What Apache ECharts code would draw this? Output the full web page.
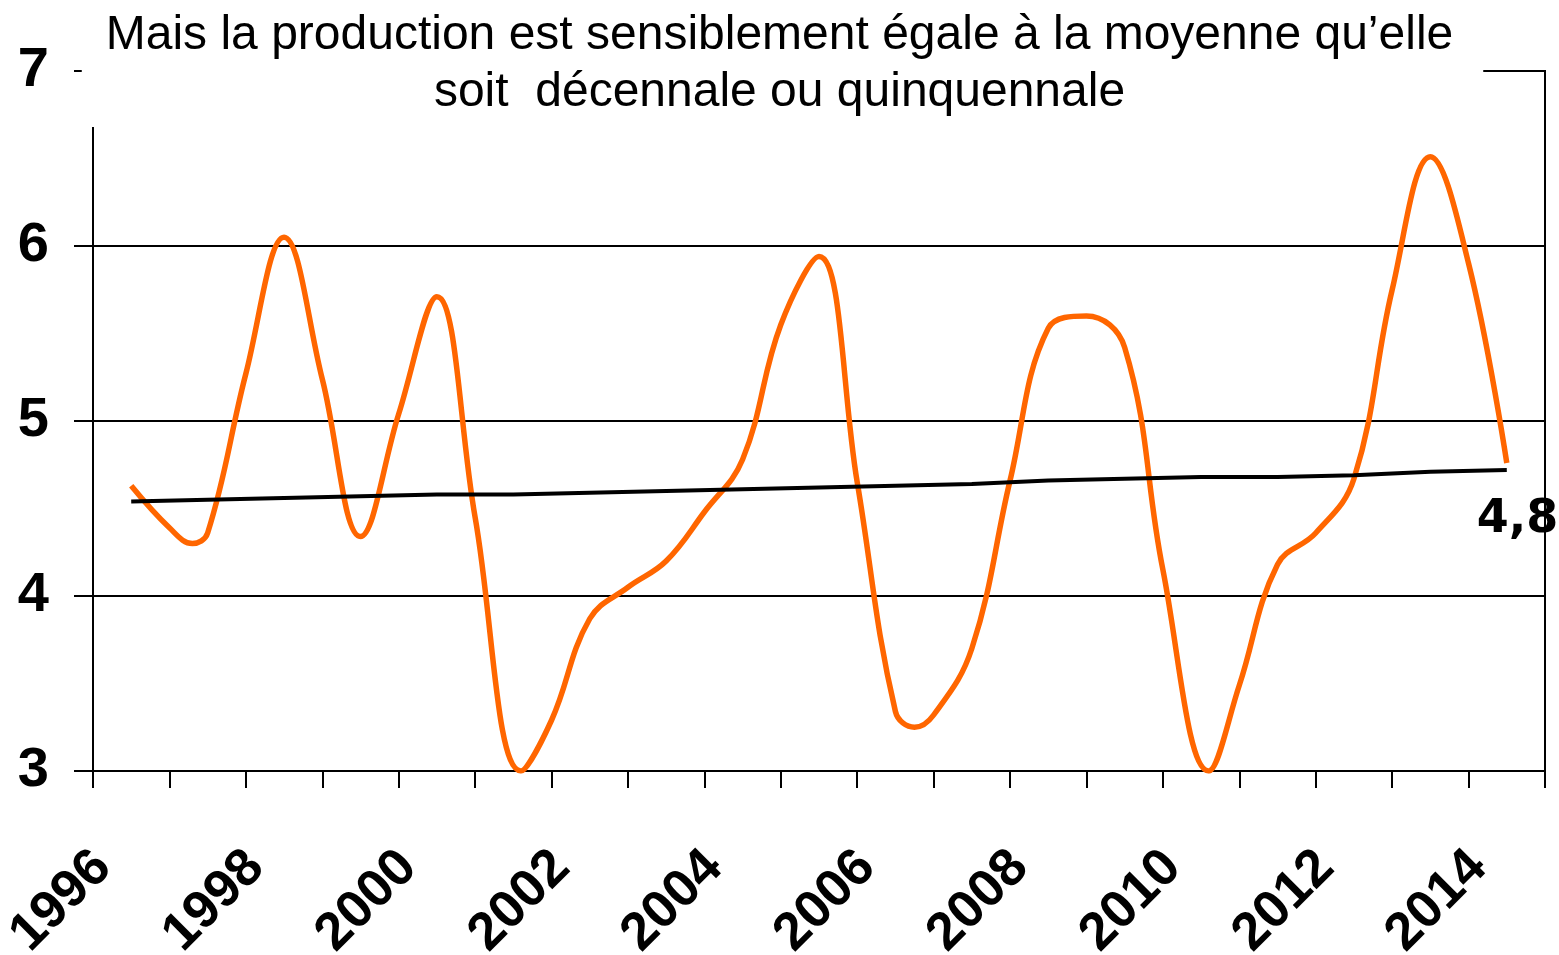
<!DOCTYPE html>
<html>
<head>
<meta charset="utf-8">
<script src="https://cdn.jsdelivr.net/npm/echarts@6/dist/echarts.min.js"></script>
<style>
  html, body { margin: 0; padding: 0; background: #fff; }
  #chart { width: 1559px; height: 955px; }
</style>
</head>
<body>
<div id="chart"></div>
<script>
// categories (x tick labels)
const years = ['1996', '1997', '1998', '1999', '2000', '2001', '2002', '2003', '2004', '2005',
  '2006', '2007', '2008', '2009', '2010', '2011', '2012', '2013', '2014']

// production curve (time in years, value)
const prodTimes = [1996, 1996.5, 1996.8, 1997, 1997.5, 1998, 1998.5, 1999, 1999.5, 2000,
  2000.5, 2001.1, 2001.5, 2002, 2002.5, 2003, 2003.5, 2004, 2004.5, 2005,
  2005.5, 2006, 2006.25, 2006.5, 2007, 2007.5, 2008, 2008.5, 2009, 2009.5,
  2010.1, 2010.5, 2011, 2011.5, 2012, 2012.5, 2013, 2013.5, 2014]
const prodValues = [4.63, 4.39, 4.30, 4.36, 5.27, 6.05, 5.24, 4.34, 5.04, 5.71,
  4.45, 3.00, 3.29, 3.87, 4.05, 4.20, 4.48, 4.78, 5.55, 5.94,
  4.65, 3.34, 3.25, 3.32, 3.70, 4.66, 5.53, 5.60, 5.42, 4.15,
  3.00, 3.49, 4.18, 4.36, 4.67, 5.75, 6.51, 5.90, 4.76]

// moving average (one value per year)
const avgValues = [4.54, 4.55, 4.56, 4.57, 4.58, 4.58, 4.59, 4.60, 4.61, 4.62,
  4.63, 4.64, 4.66, 4.67, 4.68, 4.68, 4.69, 4.71, 4.72]
const endLabelText = '4,8'

const chartTitle = 'Mais la production est sensiblement égale à la moyenne qu’elle\nsoit  décennale ou quinquennale'

const myChart = echarts.init(document.getElementById('chart'))

const option = {
  animation: false,
  backgroundColor: '#fff',
  title: {
    text: chartTitle,
    left: 'center',
    top: 0,
    padding: [7, 30, 6, 24],
    backgroundColor: '#fff',
    textStyle: {
      fontFamily: 'Liberation Sans',
      fontSize: 48,
      fontWeight: 'normal',
      color: '#000',
      lineHeight: 57
    }
  },
  grid: {
    left: 93,
    right: 14,
    top: 71,
    bottom: 184,
    show: true,
    borderColor: '#000',
    borderWidth: 2,
    containLabel: false,
    outerBoundsMode: 'none'
  },
  xAxis: [
    {
      type: 'category',
      data: years,
      boundaryGap: true,
      axisLine: { lineStyle: { color: '#000', width: 2 } },
      axisTick: { show: true, interval: 0, length: 17, lineStyle: { color: '#000', width: 2 } },
      axisLabel: {
        interval: 1,
        rotate: 45,
        margin: 60,
        padding: [0, 40, 0, 0],
        fontFamily: 'Liberation Sans',
        fontSize: 53,
        fontWeight: 'bold',
        color: '#000'
      },
      splitLine: { show: false }
    },
    {
      type: 'value',
      min: 1995.5,
      max: 2014.5,
      show: false
    }
  ],
  yAxis: {
    type: 'value',
    min: 3,
    max: 7,
    interval: 1,
    axisLine: { show: true, lineStyle: { color: '#000', width: 2 } },
    axisTick: { show: true, length: 19, lineStyle: { color: '#000', width: 2 } },
    axisLabel: {
      margin: 44,
      fontFamily: 'Liberation Sans',
      fontSize: 56,
      fontWeight: 'bold',
      color: '#000'
    },
    splitLine: { show: true, lineStyle: { color: '#000', width: 2 } }
  },
  series: [
    {
      name: 'moyenne',
      type: 'line',
      xAxisIndex: 0,
      data: avgValues,
      showSymbol: false,
      lineStyle: { color: '#000', width: 4 },
      endLabel: {
        show: true,
        formatter: endLabelText,
        offset: [-38, 50],
        fontFamily: 'DejaVu Sans',
        fontSize: 46,
        fontWeight: 'bold',
        color: '#000'
      },
      z: 3
    },
    {
      name: 'production',
      type: 'line',
      xAxisIndex: 1,
      data: prodTimes.map((t, i) => [t, prodValues[i]]),
      smooth: 0.4,
      showSymbol: false,
      lineStyle: { color: '#FF6600', width: 5.5 },
      z: 2
    }
  ]
}

myChart.setOption(option)
</script>
</body>
</html>
